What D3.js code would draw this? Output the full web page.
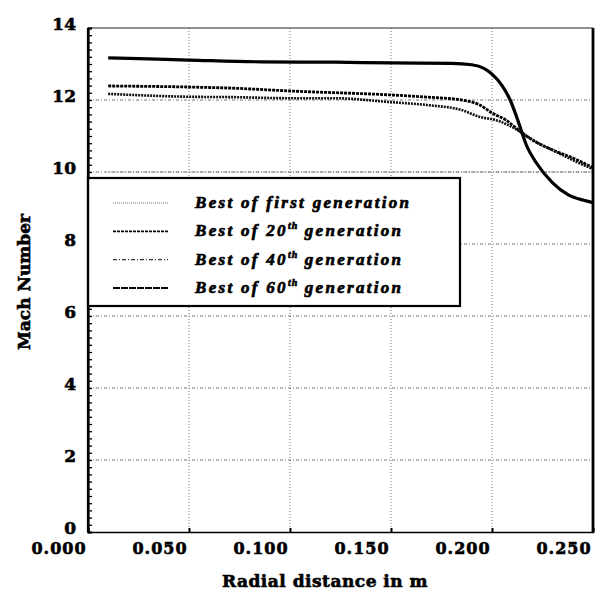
<!DOCTYPE html>
<html><head><meta charset="utf-8">
<script src="https://cdn.jsdelivr.net/npm/d3@7/dist/d3.min.js"></script>
<style>body{margin:0;background:#fff}svg{display:block}</style>
</head><body><svg id="c" width="606" height="594"></svg>
<script>
// ---- data ----
const xTicks = [0.000, 0.050, 0.100, 0.150, 0.200, 0.250];
const xTickLabels = ["0.000", "0.050", "0.100", "0.150", "0.200", "0.250"];
const yTicks = [0, 2, 4, 6, 8, 10, 12, 14];
const yTickLabels = ["0", "2", "4", "6", "8", "10", "12", "14"];

const legendPrefix = ["Best of first generation", "Best of 20", "Best of 40", "Best of 60"];
const legendSup = ["", "th", "th", "th"];
const legendSuffix = ["", " generation", " generation", " generation"];

const gen1X = [0.010, 0.250];
const gen1M = [10.00, 10.00];

const gen20X = [0.010, 0.050, 0.071, 0.100, 0.150, 0.168, 0.185, 0.194, 0.200, 0.207, 0.213, 0.220, 0.230, 0.240, 0.250];
const gen20M = [12.39, 12.36, 12.33, 12.25, 12.14, 12.08, 12.00, 11.86, 11.64, 11.44, 11.17, 10.89, 10.61, 10.39, 10.12];

const gen40X = [0.010, 0.050, 0.071, 0.100, 0.122, 0.150, 0.168, 0.185, 0.194, 0.202, 0.210, 0.215, 0.222, 0.230, 0.240, 0.250];
const gen40M = [12.17, 12.09, 12.08, 12.05, 12.05, 11.94, 11.86, 11.72, 11.53, 11.44, 11.25, 11.08, 10.83, 10.61, 10.33, 10.08];

const gen60X = [0.010, 0.030, 0.050, 0.086, 0.122, 0.150, 0.180, 0.190, 0.196, 0.200, 0.205, 0.209, 0.213, 0.217, 0.222, 0.230, 0.238, 0.245, 0.250];
const gen60M = [13.17, 13.14, 13.11, 13.06, 13.05, 13.03, 13.02, 12.98, 12.88, 12.72, 12.40, 12.00, 11.40, 10.75, 10.25, 9.70, 9.36, 9.22, 9.15];

// ---- layout ----
const W = 606, H = 594;
const m = {left: 88, right: 13, top: 28, bottom: 62};
const svg = d3.select("#c");
const x = d3.scaleLinear().domain([0, 0.25]).range([m.left, W - m.right]);
const y = d3.scaleLinear().domain([0, 14]).range([H - m.bottom, m.top]);
const serif = "'DejaVu Serif', 'Liberation Serif', serif";

// grid
const grid = svg.append("g");
grid.selectAll("line.v").data(xTicks.slice(1, -1)).enter().append("line")
  .attr("x1", d => x(d)).attr("x2", d => x(d))
  .attr("y1", y(14)).attr("y2", y(0))
  .attr("stroke", "#777").attr("stroke-width", 1).attr("stroke-dasharray", "1,2");
grid.selectAll("line.h").data(yTicks.slice(1, -1)).enter().append("line")
  .attr("x1", x(0)).attr("x2", x(0.25))
  .attr("y1", d => y(d)).attr("y2", d => y(d))
  .attr("stroke", "#777").attr("stroke-width", 1).attr("stroke-dasharray", "3,2,1,2");

// curves
const line = d3.line().x(d => x(d[0])).y(d => y(d[1])).curve(d3.curveMonotoneX);
const series = [
  {xs: gen1X, ms: gen1M, stroke: "#666", w: 1.2, dash: "1,1.5"},
  {xs: gen20X, ms: gen20M, stroke: "#000", w: 2.8, dash: "3,1"},
  {xs: gen40X, ms: gen40M, stroke: "#111", w: 2.6, dash: "2,1"},
  {xs: gen60X, ms: gen60M, stroke: "#000", w: 3.2, dash: null}
];
series.forEach(s => {
  svg.append("path").datum(d3.zip(s.xs, s.ms)).attr("d", line)
    .attr("fill", "none").attr("stroke", s.stroke).attr("stroke-width", s.w)
    .attr("stroke-dasharray", s.dash).attr("stroke-linejoin", "round");
});

// frame
svg.append("line").attr("x1", x(0)).attr("x2", x(0.25)).attr("y1", y(14)).attr("y2", y(14))
  .attr("stroke", "#222").attr("stroke-width", 1.2);
svg.append("line").attr("x1", x(0.25)).attr("x2", x(0.25)).attr("y1", y(14)).attr("y2", y(0))
  .attr("stroke", "#000").attr("stroke-width", 2.8);

// axes
const yAxis = d3.axisRight(y).tickValues(d3.range(0, 14.01, 0.2)).tickSize(4).tickFormat("");
const gy = svg.append("g").attr("transform", `translate(${x(0)},0)`).call(yAxis);
gy.select(".domain").attr("stroke", "#000").attr("stroke-width", 2.2);
gy.selectAll(".tick line").attr("stroke", "#000").attr("stroke-width", 1.3);

const xAxis = d3.axisBottom(x).tickValues(xTicks).tickSize(-4).tickFormat("");
const gx = svg.append("g").attr("transform", `translate(0,${y(0)})`).call(xAxis);
gx.select(".domain").attr("stroke", "#000").attr("stroke-width", 1.6);
gx.selectAll(".tick line").attr("stroke", "#000").attr("stroke-width", 2);

// tick labels
svg.append("g").selectAll("text").data(yTicks).enter().append("text")
  .attr("x", x(0) - 12).attr("y", d => y(d) + 2)
  .attr("text-anchor", "end").attr("font-family", serif).attr("font-weight", "bold")
  .attr("font-size", 17).attr("fill", "#000").attr("stroke", "#000").attr("stroke-width", 0.6)
  .text((d, i) => yTickLabels[i]);
svg.append("g").selectAll("text").data(xTicks).enter().append("text")
  .attr("x", d => x(d) - 29).attr("y", y(0) + 22)
  .attr("text-anchor", "middle").attr("font-family", serif).attr("font-weight", "bold")
  .attr("font-size", 16).attr("letter-spacing", 1).attr("fill", "#000")
  .attr("stroke", "#000").attr("stroke-width", 0.6)
  .text((d, i) => xTickLabels[i]);

// axis titles
svg.append("text").attr("x", 325).attr("y", 587).attr("text-anchor", "middle")
  .attr("font-family", serif).attr("font-weight", "bold").attr("font-size", 17)
  .attr("stroke", "#000").attr("stroke-width", 0.6)
  .attr("letter-spacing", 0.5).text("Radial distance in m");
svg.append("text").attr("transform", "translate(30,282) rotate(-90)").attr("text-anchor", "middle")
  .attr("font-family", serif).attr("font-weight", "bold").attr("font-size", 17)
  .attr("stroke", "#000").attr("stroke-width", 0.6)
  .text("Mach Number");

// legend
const lg = svg.append("g");
lg.append("rect").attr("x", x(0)).attr("y", 178).attr("width", 372).attr("height", 128)
  .attr("fill", "#fff").attr("stroke", "#000").attr("stroke-width", 2.2);
const legendStyles = [
  {stroke: "#777", w: 1, dash: "1,1"},
  {stroke: "#000", w: 1.6, dash: "3,1"},
  {stroke: "#333", w: 1.1, dash: "4,2,1,2"},
  {stroke: "#000", w: 1.8, dash: "7,1"}
];
const rowY = d3.scalePoint().domain(d3.range(4)).range([203, 288]);
legendPrefix.forEach((p, i) => {
  const ry = rowY(i);
  lg.append("line").attr("x1", 113).attr("x2", 168).attr("y1", ry).attr("y2", ry)
    .attr("stroke", legendStyles[i].stroke).attr("stroke-width", legendStyles[i].w)
    .attr("stroke-dasharray", legendStyles[i].dash);
  const t = lg.append("text").attr("x", 195).attr("y", ry + 5)
    .attr("font-family", "'Liberation Serif', serif").attr("font-weight", "bold")
    .attr("font-style", "italic").attr("font-size", 17).attr("letter-spacing", 2.3)
    .attr("stroke", "#000").attr("stroke-width", 0.7);
  t.append("tspan").text(p);
  if (legendSup[i]) {
    t.append("tspan").attr("dy", -7).attr("font-size", 10).attr("letter-spacing", 1).text(legendSup[i]);
    t.append("tspan").attr("dy", 7).text(legendSuffix[i]);
  }
});
// re-draw left axis line over legend border
svg.append("line").attr("x1", x(0)).attr("x2", x(0)).attr("y1", y(14)).attr("y2", y(0))
  .attr("stroke", "#000").attr("stroke-width", 2.2);
</script></body></html>
